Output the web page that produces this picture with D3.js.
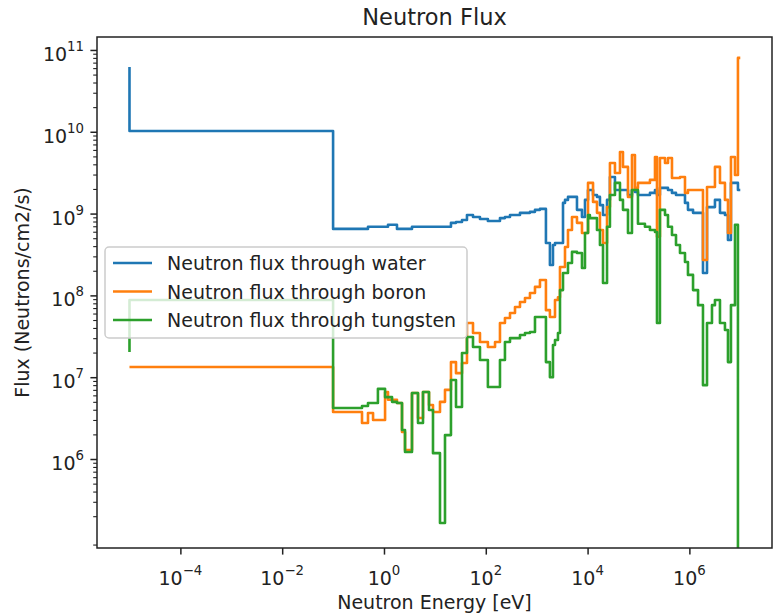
<!DOCTYPE html>
<html>
<head>
<meta charset="utf-8">
<script src="https://cdn.jsdelivr.net/npm/d3@7"></script>
<style>
  body { margin: 0; background: #fff; }
  text { font-family: "DejaVu Sans", sans-serif; fill: #222; }
</style>
</head>
<body>
<div id="chart"></div>
<script>
// bin edges (eV); first entry is the start point of the step line
const energy = [1e-5, 0.1, 0.37, 0.485, 0.61, 0.76, 1.05, 1.2, 1.44, 1.8, 2.26, 2.59, 3.55, 4.66, 5.84, 7.66, 9.18,
  12.6, 15.8, 20.7, 26, 34.1, 42.7, 56.1, 76.9, 110, 152, 190, 238, 299, 375, 470, 589, 738, 926, 1160, 1520,
  1820, 2090, 2290, 2620, 2870, 3290, 3600, 4120, 4940, 6190, 7760, 8890, 1.02e4, 1.11e4, 1.28e4, 1.53e4,
  1.75e4, 2.01e4, 2.41e4, 2.75e4, 3.45e4, 4.33e4, 4.96e4, 6.22e4, 7.45e4, 8.53e4, 9.77e4, 1.34e5, 1.68e5,
  2.11e5, 2.31e5, 2.64e5, 3.32e5, 3.8e5, 4.55e5, 5.46e5, 6.54e5, 8.2e5, 9.38e5, 1.18e6, 1.48e6, 1.85e6,
  2.22e6, 2.78e6, 3.18e6, 3.99e6, 5.0e6, 5.73e6, 6.56e6, 7.87e6, 9.0e6, 1.0e7];

const water = [6.2e10, 1.02e10, 6.5e8, 6.5e8, 6.9e8, 6.9e8, 6.9e8, 6.9e8, 7.3e8, 7.3e8, 6.5e8, 6.5e8, 6.5e8,
  6.9e8, 6.9e8, 6.9e8, 6.9e8, 6.9e8, 6.9e8, 6.9e8, 7.7e8, 7.9e8, 8.35e8, 9.6e8, 9.1e8, 8.6e8, 8.1e8, 8.1e8,
  8.8e8, 9.1e8, 9.6e8, 9.6e8, 1.02e9, 1.02e9, 1.05e9, 1.11e9, 1.14e9, 4.37e8, 2.35e8, 4.13e8, 4.37e8, 4.37e8,
  4.37e8, 1.35e9, 1.47e9, 1.6e9, 1.6e9, 1.11e9, 9.1e8, 1.47e9, 1.94e9, 1.94e9, 1.69e9, 1.6e9, 1.27e9, 9.6e8,
  1.47e9, 2.8e9, 1.94e9, 1.94e9, 1.94e9, 1.69e9, 1.94e9, 1.84e9, 1.69e9, 1.69e9, 1.79e9, 1.94e9, 1.69e9,
  2.06e9, 2.06e9, 1.94e9, 1.79e9, 1.69e9, 1.69e9, 1.35e9, 1.11e9, 1.02e9, 1.02e9, 1.88e8, 1.2e9, 1.2e9,
  1.47e9, 1.02e9, 9.6e8, 4.76e8, 2.37e9, 2.37e9, 1.94e9];

const boron = [1.33e7, 1.33e7, 3.76e6, 2.75e6, 3.65e6, 3.0e6, 3.0e6, 6.6e6, 5.3e6, 5.3e6, 4.84e6, 2.14e6,
  1.29e6, 6.4e6, 3.17e6, 6.6e6, 4.57e6, 3.76e6, 5.0e6, 7.0e6, 1.53e7, 1.12e7, 1.49e7, 4.6e7, 3.47e7, 2.69e7,
  2.34e7, 2.69e7, 4.6e7, 5.3e7, 6.1e7, 7.2e7, 8.3e7, 9.3e7, 1.07e8, 1.27e8, 1.54e8, 6.6e7, 5.45e7, 5.45e7,
  8.8e7, 9.5e7, 2.22e8, 2.22e8, 3.9e8, 6.3e8, 9.1e8, 7.7e8, 5.8e8, 5.8e8, 2.37e9, 2.37e9, 1.39e9, 1.02e9,
  6.3e8, 4.37e8, 1.2e9, 4.16e9, 3.13e9, 5.66e9, 3.72e9, 1.6e9, 5.2e9, 2.06e9, 2.37e9, 2.37e9, 2.58e9,
  4.92e9, 5.2e8, 4.78e9, 4.16e9, 4.78e9, 2.72e9, 2.72e9, 2.8e9, 1.79e9, 1.94e9, 1.94e9, 1.94e9, 2.71e8,
  2.11e9, 2.11e9, 3.72e9, 2.37e9, 1.47e9, 5.8e8, 4.92e9, 2.96e9, 8.0e10];

const tungsten = [2.03e7, 8.8e7, 4.2e6, 4.45e6, 4.84e6, 4.84e6, 7.2e6, 5.7e6, 5.7e6, 5.0e6, 4.84e6, 2.26e6,
  1.22e6, 6.4e6, 2.75e6, 6.6e6, 3.97e6, 1.18e6, 1.65e5, 1.96e6, 9.25e6, 4.32e6, 1.98e7, 3.1e7, 2.34e7, 1.62e7,
  7.6e6, 7.6e6, 1.62e7, 2.69e7, 3.0e7, 3.0e7, 3.28e7, 3.47e7, 3.57e7, 5.45e7, 5.45e7, 1.53e7, 1.0e7, 2.48e7,
  2.85e7, 3.47e7, 1.16e8, 1.88e8, 1.88e8, 2.49e8, 3.4e8, 3.3e8, 2.16e8, 5.8e8, 9.6e8, 8.8e8, 8.8e8, 6.3e8,
  4.13e8, 1.42e8, 6.9e8, 1.69e9, 2.37e9, 1.47e9, 1.11e9, 5.8e8, 1.94e9, 1.94e9, 7.5e8, 6.9e8, 6.3e8, 5.96e8,
  4.6e7, 1.11e9, 9.6e8, 6.9e8, 5.47e8, 4.13e8, 3.3e8, 2.56e8, 1.78e8, 1.16e8, 7.6e7, 8.0e6, 4.6e7, 7.6e7,
  8.8e7, 4.6e7, 3.78e7, 1.53e7, 7.6e7, 7.3e8, 1e3];

const seriesNames = ["Neutron flux through water", "Neutron flux through boron", "Neutron flux through tungsten"];
const colors = ["#1f77b4", "#ff7f0e", "#2ca02c"];
const xTicks = [1e-4, 1e-2, 1, 1e2, 1e4, 1e6];
const yTicks = [1e6, 1e7, 1e8, 1e9, 1e10, 1e11];

const W = 774, H = 615;
const pLeft = 97, pRight = 772, pTop = 37, pBottom = 548;

const svg = d3.select("#chart").append("svg")
    .attr("width", W)
    .attr("height", H);

const x = d3.scaleLog().domain([2.3e-6, 4.2e7]).range([pLeft, pRight]);
const y = d3.scaleLog().domain([8.17e4, 1.44e11]).range([pBottom, pTop]);

svg.append("clipPath").attr("id", "clip")
  .append("rect")
    .attr("x", pLeft).attr("y", pTop)
    .attr("width", pRight - pLeft).attr("height", pBottom - pTop);

// step lines ("pre" steps like matplotlib)
const line = d3.line()
    .x(d => x(d[0]))
    .y(d => y(d[1]))
    .curve(d3.curveStepBefore);

const plot = svg.append("g").attr("clip-path", "url(#clip)");
[water, boron, tungsten].forEach((s, i) => {
  plot.append("path")
      .datum(energy.map((e, j) => [e, s[j]]))
      .attr("d", line)
      .attr("fill", "none")
      .attr("stroke", colors[i])
      .attr("stroke-width", 2.6)
      .attr("stroke-linejoin", "round");
});

// x axis ticks
const xAxis = svg.append("g")
    .attr("transform", `translate(0,${pBottom})`)
    .call(d3.axisBottom(x).tickValues(xTicks).tickSize(6.6).tickFormat(""));
xAxis.select(".domain").remove();
xAxis.selectAll("line").attr("stroke", "#222").attr("stroke-width", 1.5);

// y axis ticks, major + minor
const yMinor = [];
for (let k = 4; k <= 11; k++) {
  for (let m = 2; m <= 9; m++) {
    const v = m * Math.pow(10, k);
    if (v > 8.17e4 && v < 1.44e11) yMinor.push(v);
  }
}
const yAxisMinor = svg.append("g")
    .attr("transform", `translate(${pLeft},0)`)
    .call(d3.axisLeft(y).tickValues(yMinor).tickSize(3.8).tickFormat(""));
yAxisMinor.select(".domain").remove();
yAxisMinor.selectAll("line").attr("stroke", "#222").attr("stroke-width", 1.1);

const yAxis = svg.append("g")
    .attr("transform", `translate(${pLeft},0)`)
    .call(d3.axisLeft(y).tickValues(yTicks).tickSize(6.6).tickFormat(""));
yAxis.select(".domain").remove();
yAxis.selectAll("line").attr("stroke", "#222").attr("stroke-width", 1.5);

// tick labels as 10^n
function expOf(v) {
  const n = Math.round(Math.log10(v));
  return n < 0 ? "\u2212" + (-n) : String(n);
}

xTicks.forEach(v => {
  const t = svg.append("text")
      .attr("x", x(v))
      .attr("y", 585)
      .attr("text-anchor", "middle")
      .attr("font-size", 19);
  t.append("tspan").text("10");
  t.append("tspan").attr("dy", -10).attr("font-size", 13.3).text(expOf(v));
});

yTicks.forEach(v => {
  const t = svg.append("text")
      .attr("x", 84)
      .attr("y", y(v) + 11)
      .attr("text-anchor", "end")
      .attr("font-size", 19);
  t.append("tspan").text("10");
  t.append("tspan").attr("dy", -10).attr("font-size", 13.3).text(expOf(v));
});

// frame
svg.append("rect")
    .attr("x", pLeft).attr("y", pTop)
    .attr("width", pRight - pLeft).attr("height", pBottom - pTop)
    .attr("fill", "none")
    .attr("stroke", "#222")
    .attr("stroke-width", 1.5);

// titles
svg.append("text")
    .attr("x", (pLeft + pRight) / 2)
    .attr("y", 25)
    .attr("text-anchor", "middle")
    .attr("font-size", 22.5)
    .text("Neutron Flux");

svg.append("text")
    .attr("x", (pLeft + pRight) / 2)
    .attr("y", 609)
    .attr("text-anchor", "middle")
    .attr("font-size", 19)
    .text("Neutron Energy [eV]");

svg.append("text")
    .attr("transform", `translate(29,${(pTop + pBottom) / 2}) rotate(-90)`)
    .attr("text-anchor", "middle")
    .attr("font-size", 19)
    .text("Flux (Neutrons/cm2/s)");

// legend
const lg = svg.append("g");
lg.append("rect")
    .attr("x", 105).attr("y", 247)
    .attr("width", 362).attr("height", 91)
    .attr("rx", 4)
    .attr("fill", "#fff").attr("fill-opacity", 0.8)
    .attr("stroke", "#ccc").attr("stroke-width", 1.5);

seriesNames.forEach((name, i) => {
  const cy = 263 + i * 28.5;
  lg.append("line")
      .attr("x1", 113).attr("x2", 152)
      .attr("y1", cy).attr("y2", cy)
      .attr("stroke", colors[i])
      .attr("stroke-width", 2.6);
  lg.append("text")
      .attr("x", 167)
      .attr("y", cy + 7)
      .attr("font-size", 19)
      .text(name);
});
</script>
</body>
</html>
